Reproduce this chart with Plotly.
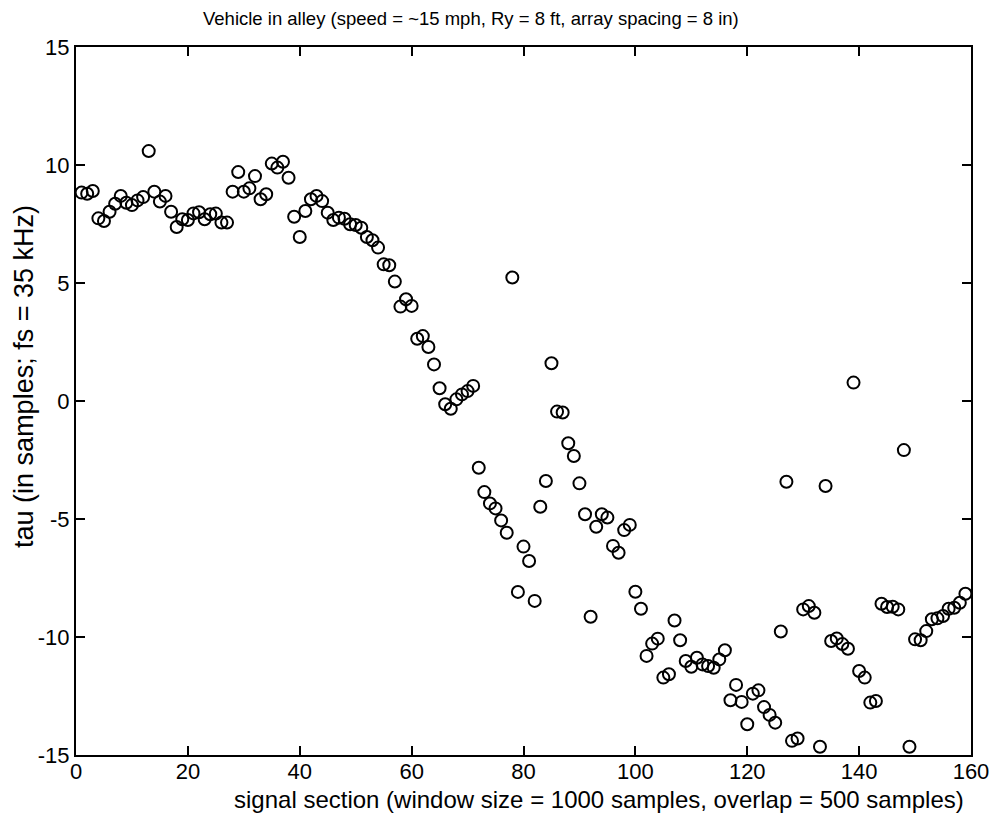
import plotly.graph_objects as go

# signal section index
section = list(range(1, 160))

# tau (in samples)
tau = [
    8.83, 8.78, 8.90, 7.74, 7.63, 8.02, 8.36, 8.69, 8.40, 8.30,   # 1-10
    8.50, 8.64, 10.59, 8.87, 8.45, 8.69, 8.02, 7.37, 7.70, 7.67,  # 11-20
    7.95, 8.00, 7.70, 7.91, 7.94, 7.56, 7.56, 8.87, 9.70, 8.87,   # 21-30
    9.01, 9.53, 8.55, 8.76, 10.06, 9.89, 10.14, 9.46, 7.81, 6.95, # 31-40
    8.05, 8.55, 8.69, 8.47, 7.98, 7.67, 7.77, 7.72, 7.49, 7.46,   # 41-50
    7.34, 6.95, 6.81, 6.50, 5.79, 5.75, 5.06, 4.00, 4.31, 4.03,   # 51-60
    2.64, 2.75, 2.29, 1.55, 0.54, -0.14, -0.33, 0.07, 0.28, 0.42, # 61-70
    0.64, -2.83, -3.86, -4.34, -4.55, -5.06, -5.58, 5.23, -8.09, -6.17,   # 71-80
    -6.78, -8.47, -4.48, -3.39, 1.60, -0.45, -0.49, -1.79, -2.33, -3.49,  # 81-90
    -4.80, -9.14, -5.33, -4.80, -4.94, -6.14, -6.43, -5.47, -5.25, -8.08, # 91-100
    -8.80, -10.80, -10.28, -10.07, -11.72, -11.58, -9.30, -10.14, -11.02, -11.26,  # 101-110
    -10.88, -11.16, -11.23, -11.30, -10.95, -10.56, -12.68, -12.03, -12.75, -13.70, # 111-120
    -12.40, -12.26, -12.97, -13.30, -13.63, -9.77, -3.42, -14.40, -14.30, -8.83,   # 121-130
    -8.69, -8.97, -14.65, -3.60, -10.17, -10.06, -10.30, -10.50, 0.78, -11.44,     # 131-140
    -11.72, -12.78, -12.71, -8.59, -8.73, -8.72, -8.83, -2.08, -14.65, -10.10,     # 141-150
    -10.14, -9.75, -9.25, -9.21, -9.11, -8.80, -8.76, -8.55, -8.17,                # 151-159
]

x_ticks = [0, 20, 40, 60, 80, 100, 120, 140, 160]
y_ticks = [-15, -10, -5, 0, 5, 10, 15]

title_text = "Vehicle in alley (speed = ~15 mph, Ry = 8 ft, array spacing = 8 in)"
x_title = "signal section (window size = 1000 samples, overlap = 500 samples)"
y_title = "tau (in samples; fs = 35 kHz)"

FONT = "Liberation Sans, Arial, Helvetica, sans-serif"

fig = go.Figure()
fig.add_trace(go.Scatter(
    x=section, y=tau, mode="markers",
    marker=dict(symbol="circle-open", size=12, color="black", line=dict(width=2, color="black")),
    showlegend=False,
))

axis_common = dict(
    showgrid=False, zeroline=False, showline=True, linecolor="black", linewidth=2,
    mirror="ticks", ticks="inside", ticklen=9, tickwidth=1.5, tickcolor="black",
    tickfont=dict(family=FONT, size=22, color="black"),
    automargin=False, ticklabeloverflow="allow",
)

fig.update_xaxes(range=[0, 160], tickvals=x_ticks, ticktext=[str(v) for v in x_ticks],
                 ticklabelstandoff=-4, **axis_common)
fig.update_yaxes(range=[-15, 15], tickvals=y_ticks, ticktext=[str(v) for v in y_ticks], **axis_common)

fig.update_layout(
    width=994, height=814, autosize=False,
    margin=dict(l=76, r=23, t=47, b=59),
    plot_bgcolor="white", paper_bgcolor="white",
    font=dict(family=FONT, color="black"),
    annotations=[
        dict(text=title_text, xref="paper", yref="paper", x=0.441, y=1.0, yshift=29,
             xanchor="center", yanchor="middle", showarrow=False,
             font=dict(family=FONT, size=18.5, color="black")),
        dict(text=x_title, xref="paper", yref="paper", x=0.584, y=0.0, yshift=-44,
             xanchor="center", yanchor="middle", showarrow=False,
             font=dict(family=FONT, size=24, color="black")),
        dict(text=y_title, xref="paper", yref="paper", x=0.0, xshift=-52, y=0.534,
             xanchor="center", yanchor="middle", showarrow=False, textangle=-90,
             font=dict(family=FONT, size=27, color="black")),
    ],
)

fig.write_html(
    "out.html",
    config={"displayModeBar": False},
    post_script="document.body.style.margin='0';document.body.style.overflow='hidden';",
)
